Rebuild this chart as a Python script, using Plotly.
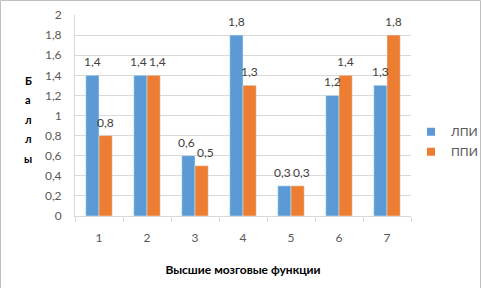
import plotly.graph_objects as go

categories = ["1", "2", "3", "4", "5", "6", "7"]
lpi = [1.4, 1.4, 0.6, 1.8, 0.3, 1.2, 1.3]
ppi = [0.8, 1.4, 0.5, 1.3, 0.3, 1.4, 1.8]
y_ticks = [0, 0.2, 0.4, 0.6, 0.8, 1, 1.2, 1.4, 1.6, 1.8, 2]
y_tick_labels = ["0", "0,2", "0,4", "0,6", "0,8", "1", "1,2", "1,4", "1,6", "1,8", "2"]
series_names = ["ЛПИ", "ППИ"]
series_colors = ["#5B9BD5", "#ED7D31"]

def fmt(v):
    return ("%g" % v).replace(".", ",")

FONT = "Lato, Noto Sans, sans-serif"
W, H = 481, 288
ML, MR, MT, MB = 75, 70, 15, 72
PW, PH = W - ML - MR, H - MT - MB
BARGAP = 0.45
bar_px = PW / len(categories) * (1 - BARGAP) / 2

fig = go.Figure()
for name, vals, col in zip(series_names, [lpi, ppi], series_colors):
    fig.add_trace(go.Bar(x=categories, y=vals, name=name, marker_color=col,
                         showlegend=False, hoverinfo="x+y"))
    # legend entry with a small square marker
    fig.add_trace(go.Scatter(x=[None], y=[None], mode="markers", name=name,
                             legendgroup=name,
                             marker=dict(symbol="square", size=8, color=col)))

# data labels (x given as category index)
for i, cat in enumerate(categories):
    a, b = lpi[i], ppi[i]
    close = abs(a - b) < 0.15
    for v, base, extra in [(a, -bar_px / 2, -2 if close else 0),
                           (b, bar_px / 2, 4 if close else 0)]:
        fig.add_annotation(x=i, y=v, xref="x", yref="y", text=fmt(v),
                           showarrow=False, xanchor="center", yanchor="bottom",
                           xshift=base + extra, yshift=4,
                           font=dict(size=12, color="#404040", family=FONT))

fig.update_layout(
    width=W, height=H,
    margin=dict(l=ML, r=MR, t=MT, b=MB, autoexpand=False),
    paper_bgcolor="white", plot_bgcolor="white",
    barmode="group", bargap=BARGAP, bargroupgap=0,
    font=dict(family=FONT, size=12, color="#595959"),
    showlegend=True,
    legend=dict(x=1.0, y=0.37, xanchor="left", yanchor="middle",
                font=dict(size=12, color="#595959", family=FONT),
                itemwidth=30, tracegroupgap=1, bgcolor="rgba(0,0,0,0)"),
    xaxis=dict(type="category", showgrid=False, showline=True, linecolor="#d9d9d9",
               automargin=False,
               ticks="outside", tickson="boundaries", ticklen=5, tickcolor="#d9d9d9",
               ticklabelstandoff=11,
               tickfont=dict(size=12, color="#595959"),
               title=dict(text="<b>Высшие мозговые функции</b>", standoff=21,
                          font=dict(size=12, color="#000000", family=FONT))),
    yaxis=dict(range=[0, 2], tickvals=y_ticks, ticktext=y_tick_labels,
               automargin=False,
               showgrid=True, gridcolor="#d9d9d9", showline=True, linecolor="#d9d9d9",
               zeroline=False, ticks="", ticklabelstandoff=10,
               tickfont=dict(size=12, color="#595959")),
)

letters = ["Б", "а", "л", "л", "ы"]
for i, ch in enumerate(letters):
    fig.add_annotation(text="<b>%s</b>" % ch, xref="paper", yref="paper",
                       x=-47 / PW, y=(216 - 80 - i * 19.5) / PH,
                       showarrow=False, xanchor="center", yanchor="middle",
                       font=dict(size=11, color="#000000", family=FONT))

fig.add_shape(type="rect", xref="paper", yref="paper",
              x0=-(ML - 0.5) / PW, x1=(PW + MR - 0.5) / PW,
              y0=-(MB + 5) / PH, y1=(PH + MT - 0.5) / PH,
              line=dict(color="#bfbfbf", width=1), layer="below")

fig.write_html("out.html", config={"displayModeBar": False},
               post_script="document.body.style.margin='0';document.body.style.overflow='hidden';")
